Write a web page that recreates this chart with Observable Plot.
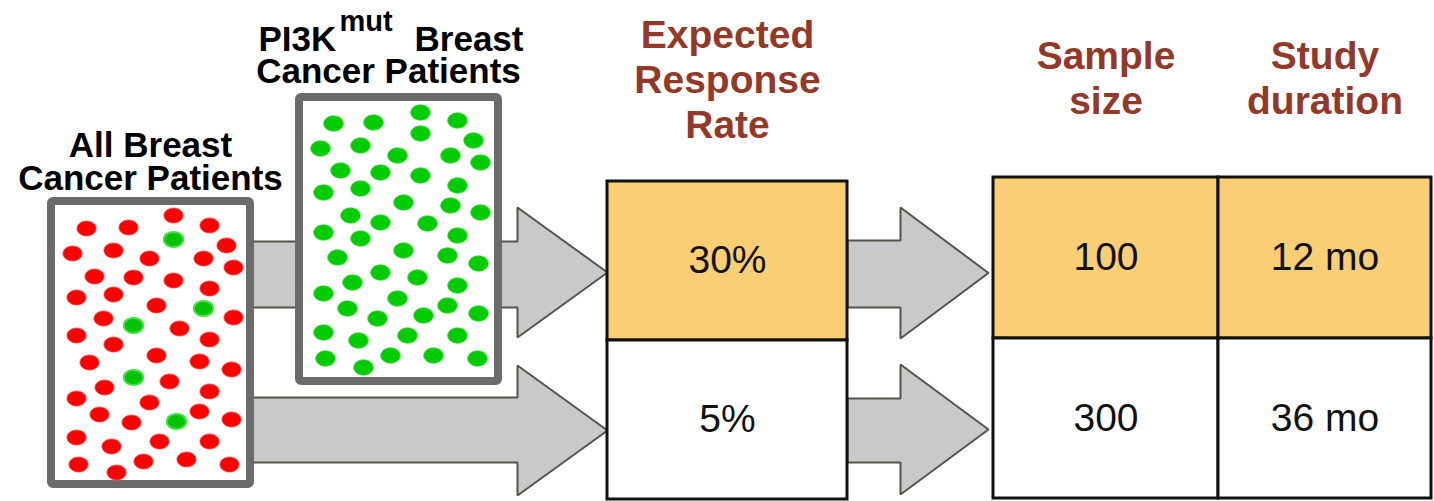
<!DOCTYPE html>
<html>
<head>
<meta charset="utf-8">
<script src="https://cdn.jsdelivr.net/npm/d3@7"></script>
<script src="https://cdn.jsdelivr.net/npm/@observablehq/plot@0.6"></script>
<style>
  html, body { margin: 0; padding: 0; background: #fff; }
  #chart svg { display: block; }
</style>
</head>
<body>
<div id="chart"></div>
<script>
// ---------------- DATA ----------------
const allPatientsLabel = "All Breast\nCancer Patients";
const mutPatientsLabelParts = ["PI3K", "mut", "Breast", "Cancer Patients"];
const columnHeaders = ["Expected\nResponse\nRate", "Sample\nsize", "Study\nduration"];
const responseRates = ["30%", "5%"];
const sampleSizes = ["100", "300"];
const studyDurations = ["12 mo", "36 mo"];
const highlightedRows = [true, false];

// patients in the "all breast cancer" population (x, y, PI3K status)
const allPatientsDots = [
  [86,228,"wt"],[128,227,"wt"],[173,215,"wt"],[209,225,"wt"],[72,253,"wt"],[113,250,"wt"],
  [149,258,"wt"],[203,258,"wt"],[226,245,"wt"],[233,267,"wt"],[94,276,"wt"],[133,277,"wt"],
  [173,280,"wt"],[209,288,"wt"],[76,297,"wt"],[113,294,"wt"],[156,305,"wt"],[233,317,"wt"],
  [103,318,"wt"],[179,328,"wt"],[76,335,"wt"],[113,344,"wt"],[209,339,"wt"],[89,362,"wt"],
  [156,355,"wt"],[199,361,"wt"],[231,369,"wt"],[169,381,"wt"],[104,387,"wt"],[76,398,"wt"],
  [209,391,"wt"],[149,402,"wt"],[99,414,"wt"],[131,422,"wt"],[199,411,"wt"],[231,419,"wt"],
  [76,437,"wt"],[111,446,"wt"],[159,441,"wt"],[209,441,"wt"],[78,464,"wt"],[116,472,"wt"],
  [143,461,"wt"],[186,459,"wt"],[229,464,"wt"],
  [173,239,"mut"],[203,308,"mut"],[133,325,"mut"],[133,377,"mut"],[176,421,"mut"]
];
// patients in the PI3K-mutant population (x, y)
const mutPatientsDots = [
  [333,123],[373,122],[420,112],[420,133],[457,120],[320,148],[360,145],[397,155],[450,155],
  [473,140],[480,162],[340,170],[380,172],[420,175],[457,185],[323,192],[360,188],[403,202],
  [450,205],[480,212],[350,215],[380,222],[427,223],[323,232],[360,238],[457,235],[337,257],
  [403,250],[447,255],[478,263],[380,272],[417,277],[352,282],[323,293],[457,285],[397,298],
  [347,308],[377,318],[447,305],[423,315],[478,313],[323,332],[358,340],[407,335],[457,335],
  [325,358],[363,367],[390,355],[433,355],[477,358]
];

// ---------------- LAYOUT & STYLE ----------------
const W = 1434, H = 501;
const FONT = "'Liberation Sans', Arial, Helvetica, sans-serif";
const HEADER_COLOR = "#93392a";
const HIGHLIGHT = "#f9ce74";
const DOT_RED = "#ff0000", DOT_GREEN = "#00cc00";

const boxAll = {x1: 51, x2: 250, y1: 201, y2: 484};
const boxMut = {x1: 299, x2: 498, y1: 97, y2: 381};
const tableRate = {cols: [607, 847], rows: [181, 340, 499]};
const tableStudy = {cols: [993, 1218, 1431], rows: [177, 338, 498]};

const arrows = [
  {x0: 250, hx: 517, tip: 607, sTop: 241, sBot: 307, hTop: 207, hBot: 337},
  {x0: 250, hx: 517, tip: 607, sTop: 397, sBot: 462, hTop: 365, hBot: 495},
  {x0: 847, hx: 900, tip: 988, sTop: 240, sBot: 307, hTop: 207, hBot: 338},
  {x0: 847, hx: 900, tip: 988, sTop: 398, sBot: 462, hTop: 364, hBot: 494}
];
const arrowPoints = arrows.flatMap((a, i) => {
  const ty = (a.hTop + a.hBot) / 2;
  return [
    [a.x0, a.sTop], [a.hx, a.sTop], [a.hx, a.hTop], [a.tip, ty],
    [a.hx, a.hBot], [a.hx, a.sBot], [a.x0, a.sBot], [a.x0, a.sTop]
  ].map(([x, y]) => ({id: i, x, y}));
});

// table cells
const cells = [];
responseRates.forEach((v, r) => cells.push({
  x1: tableRate.cols[0], x2: tableRate.cols[1], y1: tableRate.rows[r], y2: tableRate.rows[r + 1],
  text: v, hl: highlightedRows[r]
}));
[sampleSizes, studyDurations].forEach((col, c) => col.forEach((v, r) => cells.push({
  x1: tableStudy.cols[c], x2: tableStudy.cols[c + 1], y1: tableStudy.rows[r], y2: tableStudy.rows[r + 1],
  text: v, hl: highlightedRows[r]
})));

// headers
const headerItems = [
  {text: columnHeaders[0], x: (tableRate.cols[0] + tableRate.cols[1]) / 2, y: 137},
  {text: columnHeaders[1], x: (tableStudy.cols[0] + tableStudy.cols[1]) / 2, y: 113},
  {text: columnHeaders[2], x: (tableStudy.cols[1] + tableStudy.cols[2]) / 2, y: 113}
];

// ellipse-ish symbol for the patient dots
const blob = {
  draw(context, size) {
    const r = Math.sqrt(size / Math.PI), rx = r * 1.12, ry = r * 0.88, k = 0.5523;
    context.moveTo(rx, 0);
    context.bezierCurveTo(rx, ry * k, rx * k, ry, 0, ry);
    context.bezierCurveTo(-rx * k, ry, -rx, ry * k, -rx, 0);
    context.bezierCurveTo(-rx, -ry * k, -rx * k, -ry, 0, -ry);
    context.bezierCurveTo(rx * k, -ry, rx, -ry * k, rx, 0);
    context.closePath();
  }
};

const chart = Plot.plot({
  width: W, height: H, margin: 0,
  x: {domain: [0, W], range: [0, W], axis: null},
  y: {domain: [0, H], range: [0, H], axis: null},
  style: {background: "#fff", fontFamily: FONT, overflow: "visible"},
  marks: [
    // arrows
    Plot.line(arrowPoints, {x: "x", y: "y", z: "id", fill: "#c9c9c9", stroke: "#55534a",
      strokeWidth: 2, strokeLinejoin: "miter", curve: "linear"}),
    // population boxes
    Plot.rect([boxAll, boxMut], {x1: "x1", x2: "x2", y1: "y1", y2: "y2",
      fill: "#fff", stroke: "#6b6b6b", strokeWidth: 8, rx: 2}),
    // patient dots
    Plot.dot(allPatientsDots.filter(d => d[2] === "wt"), {x: d => d[0], y: d => d[1], r: 8.6,
      symbol: blob, fill: DOT_RED, stroke: "#ff5a5a", strokeWidth: 0.8}),
    Plot.dot(allPatientsDots.filter(d => d[2] === "mut"), {x: d => d[0], y: d => d[1], r: 8.6,
      symbol: blob, fill: "#00c400", stroke: "#3fe03f", strokeWidth: 2}),
    Plot.dot(mutPatientsDots, {x: d => d[0], y: d => d[1], r: 8.8,
      symbol: blob, fill: DOT_GREEN, stroke: "#4ad84a", strokeWidth: 0.8}),
    // tables
    Plot.rect(cells, {x1: "x1", x2: "x2", y1: "y1", y2: "y2",
      fill: d => d.hl ? HIGHLIGHT : "#fff", stroke: "#111", strokeWidth: 3}),
    Plot.text(cells, {x: d => (d.x1 + d.x2) / 2, y: d => (d.y1 + d.y2) / 2, text: "text",
      fontSize: 39, fill: "#111", lineAnchor: "middle"}),
    // headers
    Plot.text(headerItems, {x: "x", y: "y", text: "text", fontSize: 39, fontWeight: "bold",
      fill: HEADER_COLOR, lineAnchor: "bottom", lineHeight: 1.15}),
    // population labels
    Plot.text([allPatientsLabel], {x: () => 150, y: () => 189, text: d => d, fontSize: 35,
      fontWeight: "bold", fill: "#000", lineAnchor: "bottom", lineHeight: 0.92}),
    Plot.text([mutPatientsLabelParts[0]], {x: () => 258, y: () => 50, text: d => d, fontSize: 35,
      fontWeight: "bold", fill: "#000", lineAnchor: "bottom", textAnchor: "start"}),
    Plot.text([mutPatientsLabelParts[1]], {x: () => 339, y: () => 30, text: d => d, fontSize: 29,
      fontWeight: "bold", fill: "#000", lineAnchor: "bottom", textAnchor: "start"}),
    Plot.text([mutPatientsLabelParts[2]], {x: () => 523, y: () => 50, text: d => d, fontSize: 35,
      fontWeight: "bold", fill: "#000", lineAnchor: "bottom", textAnchor: "end"}),
    Plot.text([mutPatientsLabelParts[3]], {x: () => 388, y: () => 82, text: d => d, fontSize: 35,
      fontWeight: "bold", fill: "#000", lineAnchor: "bottom"})
  ]
});
document.getElementById("chart").appendChild(chart);
</script>
</body>
</html>
